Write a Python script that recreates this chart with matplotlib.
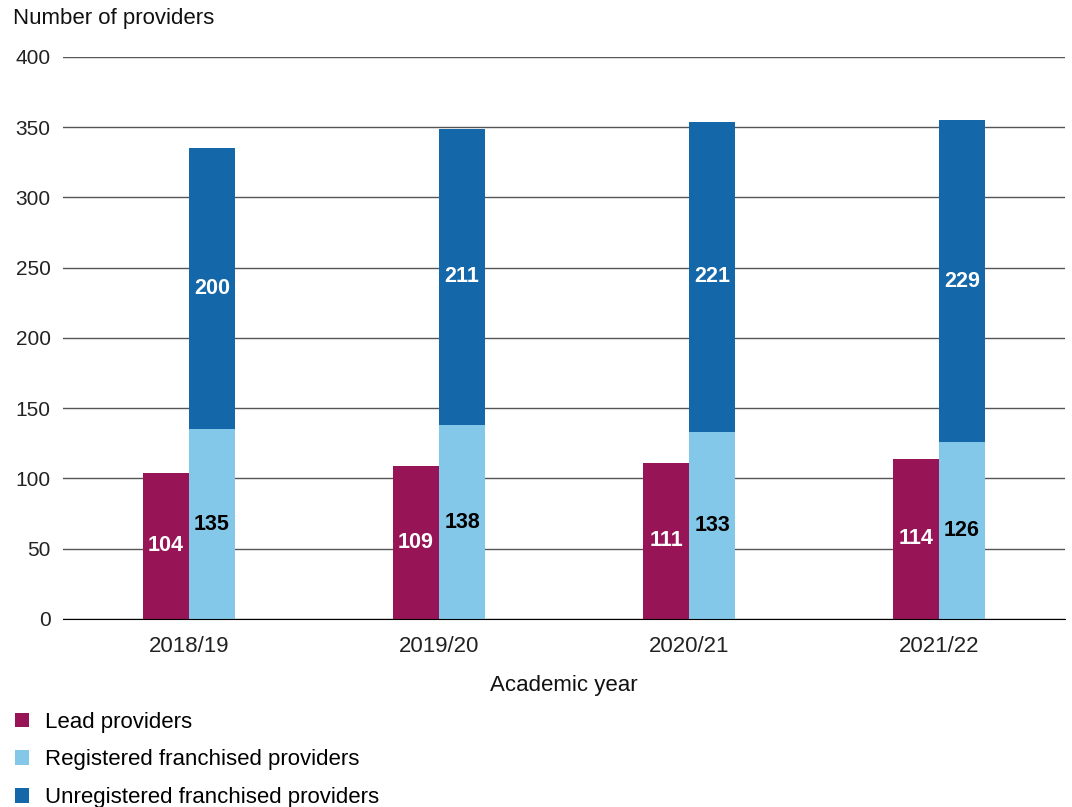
import matplotlib.pyplot as plt
import numpy as np

plt.rcParams['font.family'] = ['Liberation Sans', 'DejaVu Sans']

# Providers per academic year
anos = ['2018/19', '2019/20', '2020/21', '2021/22']
lead = [104, 109, 111, 114]
registered = [135, 138, 133, 126]
unregistered = [200, 211, 221, 229]

cor_lead = '#971556'
cor_reg = '#84C8E9'
cor_unreg = '#1467A8'

fig = plt.figure(figsize=(10.72, 8.07), dpi=100)
ax = fig.add_axes([0.0588, 0.233, 0.9347, 0.6964])

x = np.arange(len(anos))
w = 0.184

b1 = ax.bar(x - w / 2, lead, w, color=cor_lead, label='Lead providers', zorder=3)
b2 = ax.bar(x + w / 2, registered, w, color=cor_reg,
            label='Registered franchised providers', zorder=3)
b3 = ax.bar(x + w / 2, unregistered, w, bottom=registered, color=cor_unreg,
            label='Unregistered franchised providers', zorder=3)

# Value labels in the middle of each segment
for i in range(len(anos)):
    ax.text(x[i] - w / 2, lead[i] / 2, str(lead[i]), ha='center', va='center',
            color='white', fontsize=15.5, fontweight='bold', zorder=4)
    ax.text(x[i] + w / 2, registered[i] / 2, str(registered[i]), ha='center',
            va='center', color='black', fontsize=15.5, fontweight='bold', zorder=4)
    ax.text(x[i] + w / 2, registered[i] + unregistered[i] / 2,
            str(unregistered[i]), ha='center', va='center', color='white',
            fontsize=15.5, fontweight='bold', zorder=4)

ax.set_xlim(-0.504, 3.504)
ax.set_ylim(0, 400)
ax.set_yticks(range(0, 401, 50))
ax.set_xticks(x)
ax.set_xticklabels(anos)
ax.tick_params(axis='both', length=0, colors='#222222')
ax.tick_params(axis='x', pad=12, labelsize=16)
ax.tick_params(axis='y', pad=9, labelsize=15)
ax.yaxis.grid(True, color='#555555', linewidth=1, zorder=0)
for s in ['top', 'right', 'left']:
    ax.spines[s].set_visible(False)
ax.spines['bottom'].set_color('black')
ax.spines['bottom'].set_zorder(5)

ax.set_xlabel('Academic year', fontsize=16, labelpad=13, color='#111111')
fig.text(0.012, 0.977, 'Number of providers', fontsize=16, va='center', ha='left',
         color='#111111')

fig.legend(handles=[b1, b2, b3], loc='upper left', bbox_to_anchor=(0.014, 0.118),
           frameon=False, fontsize=16, handlelength=0.63, handleheight=0.63,
           handletextpad=0.72, labelspacing=0.75, borderaxespad=0, borderpad=0)

plt.savefig('out.png', dpi=100)
